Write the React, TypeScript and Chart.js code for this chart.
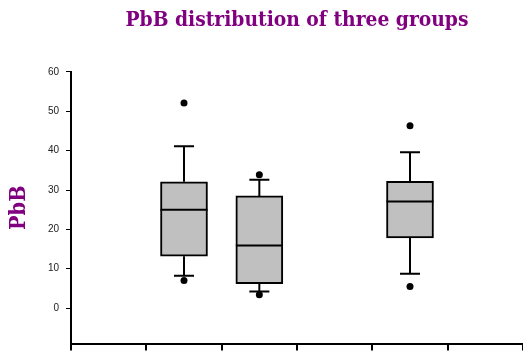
import React, { useEffect, useRef } from 'react';
import { Chart, registerables } from 'chart.js';

Chart.register(...registerables);

const titleText = 'PbB distribution of three groups';
const yTitle = 'PbB';
const categories = ['c1', 'c2', 'c3', 'c4', 'c5', 'c6'];
const q1 = [null, 13.2, 6.2, null, 17.8, null];
const q3 = [null, 32.1, 28.5, null, 32.2, null];
const medians = [null, 25.0, 15.9, null, 27.1, null];
const whiskerLow = [null, 8.2, 4.2, null, 8.7, null];
const whiskerHigh = [null, 41.1, 32.6, null, 39.6, null];
const outliersHigh = [null, 52.1, 33.9, null, 46.3, null];
const outliersLow = [null, 7.0, 3.4, null, 5.5, null];
const yTicks = [0, 10, 20, 30, 40, 50, 60];

const boxPlugin = {
  id: 'boxWhiskers',
  beforeDatasetsDraw(chart: any) {
    const { ctx, scales } = chart;
    const x = scales.x;
    const y = scales.y;
    ctx.save();
    ctx.strokeStyle = '#000';
    ctx.lineWidth = 2;
    categories.forEach((_, i) => {
      if (medians[i] == null) return;
      const cx = x.getPixelForValue(i);
      const yHigh = y.getPixelForValue(whiskerHigh[i]);
      const yLow = y.getPixelForValue(whiskerLow[i]);
      const yQ1 = y.getPixelForValue(q1[i]);
      const yQ3 = y.getPixelForValue(q3[i]);
      ctx.beginPath();
      ctx.moveTo(cx, yQ3);
      ctx.lineTo(cx, yHigh);
      ctx.moveTo(cx, yQ1);
      ctx.lineTo(cx, yLow);
      ctx.moveTo(cx - 10, yHigh);
      ctx.lineTo(cx + 10, yHigh);
      ctx.moveTo(cx - 10, yLow);
      ctx.lineTo(cx + 10, yLow);
      ctx.stroke();
    });
    ctx.restore();
  },
  afterDatasetDraw(chart: any, args: any) {
    if (args.meta.type !== 'bar') return;
    const { ctx, scales } = chart;
    const y = scales.y;
    ctx.save();
    ctx.strokeStyle = '#000';
    ctx.lineWidth = 2;
    args.meta.data.forEach((el: any, i: number) => {
      if (medians[i] == null) return;
      const ym = y.getPixelForValue(medians[i]);
      ctx.beginPath();
      ctx.moveTo(el.x - el.width / 2, ym);
      ctx.lineTo(el.x + el.width / 2, ym);
      ctx.stroke();
    });
    ctx.restore();
  },
};

export default function App() {
  const ref = useRef<HTMLCanvasElement>(null);
  useEffect(() => {
    if (!ref.current) return;
    const chart = new Chart(ref.current, {
      data: {
        labels: categories,
        datasets: [
          {
            type: 'line',
            data: outliersHigh,
            showLine: false,
            pointRadius: 3.5,
            pointBackgroundColor: '#000',
            pointBorderWidth: 0,
            borderColor: '#000',
          },
          {
            type: 'line',
            data: outliersLow,
            showLine: false,
            pointRadius: 3.5,
            pointBackgroundColor: '#000',
            pointBorderWidth: 0,
            borderColor: '#000',
          },
          {
            type: 'bar',
            data: categories.map((_, i) => (q1[i] == null ? null : [q1[i], q3[i]])) as any,
            backgroundColor: '#C0C0C0',
            borderColor: '#000',
            borderWidth: 2,
            borderSkipped: false,
            barThickness: 47,
          },
        ],
      } as any,
      options: {
        responsive: false,
        animation: false,
        layout: { padding: { left: 0, right: 3, top: 0, bottom: 0 } },
        plugins: {
          legend: { display: false },
          tooltip: { enabled: false },
          title: {
            display: true,
            text: titleText,
            fullSize: false,
            color: '#800080',
            font: { family: "'DejaVu Serif Condensed', 'DejaVu Serif'", size: 20.8, weight: 'bold' },
            padding: { top: 8.5, bottom: 38.5 },
          },
        },
        scales: {
          x: {
            type: 'category',
            offset: true,
            grid: {
              offset: true,
              drawOnChartArea: false,
              drawTicks: true,
              tickLength: 7,
              color: '#000',
              lineWidth: 2,
            },
            border: { color: '#000', width: 2 },
            ticks: { display: false },
            afterFit: (s: any) => {
              s.height = 8.5;
              s.paddingLeft = 0;
              s.paddingRight = 0;
            },
          },
          y: {
            min: -9,
            max: 60,
            afterBuildTicks: (axis: any) => {
              axis.ticks = yTicks.map((v) => ({ value: v }));
            },
            grid: { drawOnChartArea: false, tickLength: 5, color: '#000', lineWidth: 1 },
            border: { color: '#000', width: 2 },
            ticks: {
              padding: 7,
              color: '#222',
              font: { family: 'Liberation Sans', size: 10 },
            },
            title: {
              display: true,
              text: yTitle,
              color: '#800080',
              font: { family: "'DejaVu Serif Condensed', 'DejaVu Serif'", size: 21.5, weight: 'bold' },
              padding: { top: 7, bottom: 0 },
            },
            afterFit: (s: any) => {
              s.width = 71;
              s.paddingTop = 0;
              s.paddingBottom = 0;
            },
          },
        },
      } as any,
      plugins: [boxPlugin],
    });
    return () => chart.destroy();
  }, []);
  return (
    <div style={{ position: 'absolute', left: 0, top: 0, width: 523, height: 352, overflow: 'hidden', background: '#fff' }}>
      <canvas ref={ref} width={527} height={352} style={{ display: 'block' }} />
    </div>
  );
}
